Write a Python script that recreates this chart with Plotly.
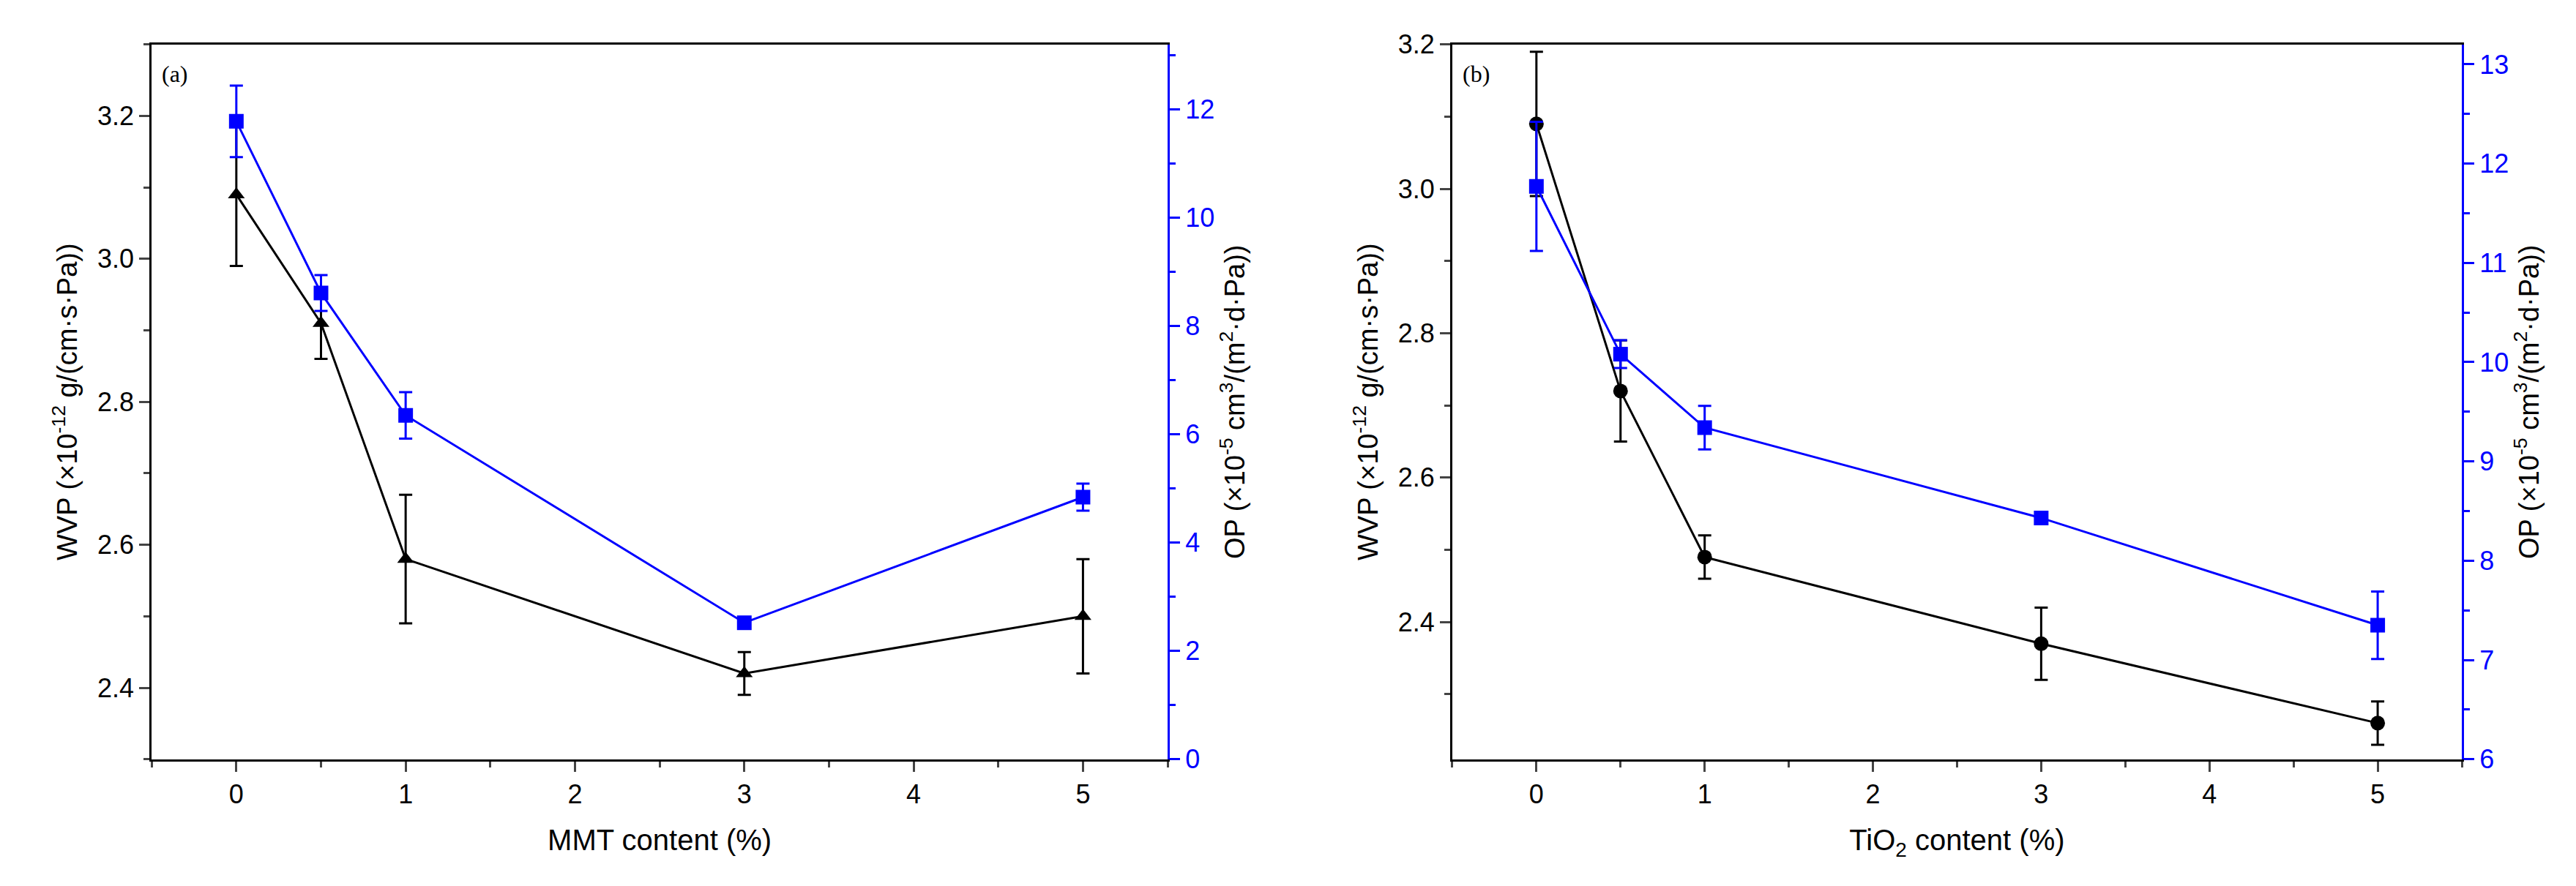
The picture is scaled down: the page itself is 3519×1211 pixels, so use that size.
import plotly.graph_objects as go

x = [0, 0.5, 1, 3, 5]
wvp_a = [3.09, 2.91, 2.58, 2.42, 2.50]
wvp_a_err = [0.10, 0.05, 0.09, 0.03, 0.08]
op_a = [11.78, 8.61, 6.35, 2.52, 4.84]
op_a_err = [0.66, 0.33, 0.43, 0.10, 0.25]
wvp_b = [3.09, 2.72, 2.49, 2.37, 2.26]
wvp_b_err = [0.10, 0.07, 0.03, 0.05, 0.03]
op_b = [11.77, 10.08, 9.34, 8.43, 7.35]
op_b_err = [0.65, 0.14, 0.22, 0.05, 0.34]

F = "Liberation Sans Narrow, Liberation Sans, Arial"
BLUE = "#0000ff"
fig = go.Figure()

def add(xa, ya, y, err, color, sym):
    fig.add_trace(go.Scatter(x=x, y=y, xaxis=xa, yaxis=ya, mode="lines+markers",
        line=dict(color=color, width=3), marker=dict(symbol=sym, size=20, color=color),
        error_y=dict(type="data", array=err, color=color, thickness=3, width=9),
        showlegend=False))

add("x", "y", wvp_a, wvp_a_err, "black", "triangle-up")
add("x", "y2", op_a, op_a_err, BLUE, "square")
add("x2", "y3", wvp_b, wvp_b_err, "black", "circle")
add("x2", "y4", op_b, op_b_err, BLUE, "square")

tf = dict(family=F, size=36, color="black")
ttl = dict(family="Liberation Sans, Arial", size=38, color="black")
xttl = dict(family=F, size=40, color="black")
common_x = dict(range=[-0.5, 5.5], tickvals=[0, 1, 2, 3, 4, 5], ticks="outside", ticklen=14,
                tickwidth=3, showline=True, linewidth=3, linecolor="black", mirror=True,
                showgrid=False, zeroline=False, tickfont=tf,
                minor=dict(ticks="outside", ticklen=8, tickwidth=3, dtick=0.5, tick0=0))
yl = dict(ticks="outside", ticklen=14, tickwidth=3, showline=True, linewidth=3,
          linecolor="black", showgrid=False, zeroline=False, tickfont=tf, dtick=0.2,
          tickformat=".1f", title_font=ttl, title_standoff=16)
yr = dict(side="right", ticks="outside", ticklen=14, tickwidth=3,
          showline=True, linewidth=3, linecolor=BLUE, tickcolor=BLUE, showgrid=False,
          zeroline=False, tickfont=dict(family=F, size=36, color=BLUE), title_font=ttl,
          title_standoff=16)

D = [0.137, 0.972]
fig.update_layout(
    width=3519, height=1211, margin=dict(l=0, r=0, t=0, b=0),
    plot_bgcolor="white", paper_bgcolor="white",
    xaxis=dict(domain=[0.0566, 0.451], anchor="y",
               title=dict(text="MMT content (%)", font=xttl, standoff=30), **common_x),
    xaxis2=dict(domain=[0.5615, 0.9534], anchor="y3",
                title=dict(text="TiO<sub>2</sub> content (%)", font=xttl, standoff=30), **common_x),
    yaxis=dict(domain=D, anchor="x", range=[2.3, 3.3],
               title=dict(text="WVP (×10<sup>-12</sup> g/(cm·s·Pa))"),
               minor=dict(ticks="outside", ticklen=8, tickwidth=3, dtick=0.1), **yl),
    yaxis2=dict(overlaying="y", anchor="x", range=[0, 13.2], dtick=2,
                title=dict(text="OP (×10<sup>-5</sup> cm<sup>3</sup>/(m<sup>2</sup>·d·Pa))"),
                minor=dict(ticks="outside", ticklen=8, tickwidth=3, dtick=1, tickcolor=BLUE), **yr),
    yaxis3=dict(domain=D, anchor="x2", range=[2.21, 3.2],
                title=dict(text="WVP (×10<sup>-12</sup> g/(cm·s·Pa))"),
                minor=dict(ticks="outside", ticklen=8, tickwidth=3, dtick=0.1, tick0=0), **yl),
    yaxis4=dict(overlaying="y3", anchor="x2", range=[6, 13.2], dtick=1,
                title=dict(text="OP (×10<sup>-5</sup> cm<sup>3</sup>/(m<sup>2</sup>·d·Pa))"),
                minor=dict(ticks="outside", ticklen=8, tickwidth=3, dtick=0.5, tickcolor=BLUE), **yr),
    annotations=[
        dict(text="(a)", x=0.0566, y=D[1], xref="paper", yref="paper", xanchor="left",
             yanchor="top", xshift=12, yshift=-20, showarrow=False,
             font=dict(family="Liberation Serif", size=32, color="black")),
        dict(text="(b)", x=0.5615, y=D[1], xref="paper", yref="paper", xanchor="left",
             yanchor="top", xshift=12, yshift=-20, showarrow=False,
             font=dict(family="Liberation Serif", size=32, color="black")),
    ],
)
fig.write_html("out.html")
